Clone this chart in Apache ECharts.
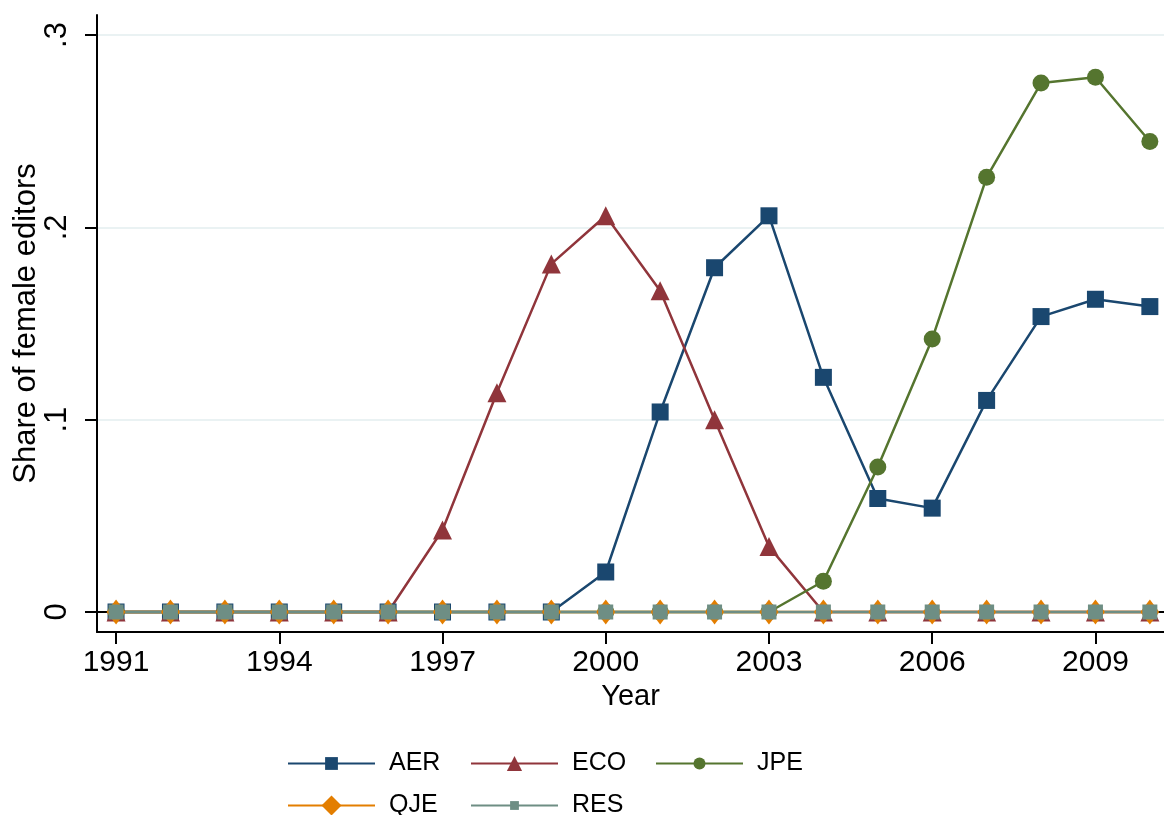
<!doctype html>
<html lang="en">
<head>
    <meta charset="UTF-8">
    <title>Share of female editors</title>
    <style>
        * {
            margin: 0;
            padding: 0;
        }

        body {
            background: #ffffff;
        }

        #chart {
            width: 1164px;
            height: 815px;
        }
    </style>
</head>
<body>
<script src="https://cdn.jsdelivr.net/npm/echarts@6/dist/echarts.min.js"></script>
<div id="chart"></div>

<script type="application/javascript">
    // data
    const years = [1991, 1992, 1993, 1994, 1995, 1996, 1997, 1998, 1999, 2000,
        2001, 2002, 2003, 2004, 2005, 2006, 2007, 2008, 2009, 2010];
    const aer = [0, 0, 0, 0, 0, 0, 0, 0, 0, 0.0208,
        0.104, 0.179, 0.206, 0.122, 0.059, 0.054, 0.110, 0.1536, 0.1626, 0.1588];
    const eco = [0, 0, 0, 0, 0, 0, 0.0426, 0.114, 0.181, 0.206,
        0.167, 0.100, 0.034, 0, 0, 0, 0, 0, 0, 0];
    const jpe = [0, 0, 0, 0, 0, 0, 0, 0, 0, 0,
        0, 0, 0, 0.016, 0.0754, 0.142, 0.226, 0.275, 0.278, 0.2446];
    const qje = [0, 0, 0, 0, 0, 0, 0, 0, 0, 0,
        0, 0, 0, 0, 0, 0, 0, 0, 0, 0];
    const res = [0, 0, 0, 0, 0, 0, 0, 0, 0, 0,
        0, 0, 0, 0, 0, 0, 0, 0, 0, 0];
    const yTicks = [0, 0.1, 0.2, 0.3];
    const xLabelYears = [1991, 1994, 1997, 2000, 2003, 2006, 2009];

    const font = 'Liberation Sans, Arial, sans-serif';

    const pairs = function (ys) {
        return years.map(function (yr, i) {
            return [yr, ys[i]];
        });
    };

    const makeSeries = function (name, ys, color, symbol, size) {
        return {
            name: name,
            type: 'line',
            data: pairs(ys),
            symbol: symbol,
            symbolSize: size,
            showSymbol: true,
            xAxisIndex: 0,
            lineStyle: {color: color, width: 2.5},
            itemStyle: {color: color},
            emphasis: {disabled: true},
            animation: false
        };
    };

    // one legend per entry so the columns line up like the original
    const makeLegend = function (name, left, centerY, iconH) {
        return {
            data: [name],
            left: left,
            top: centerY - 10,
            padding: 0,
            itemWidth: 87,
            itemHeight: iconH,
            textStyle: {
                fontFamily: font,
                fontSize: 25,
                color: '#000',
                padding: [0, 0, 0, 9]
            },
            selectedMode: false
        };
    };

    const chart = echarts.init(document.getElementById('chart'), null, {renderer: 'canvas'});

    const xBase = {
        type: 'value',
        min: 1990.65,
        max: 2010.26,
        position: 'bottom',
        offset: 0,
        splitLine: {show: false},
        axisLine: {lineStyle: {color: '#000', width: 2}}
    };

    const option = {
        backgroundColor: '#fff',
        animation: false,
        grid: {left: 97, right: 0, top: 15, bottom: 183, containLabel: false, outerBoundsMode: 'none'},
        legend: [
            makeLegend('AER', 287, 761, 16),
            makeLegend('ECO', 470, 761, 19),
            makeLegend('JPE', 655, 761, 15),
            makeLegend('QJE', 287, 803, 25),
            makeLegend('RES', 470, 803, 11)
        ],
        xAxis: [
            Object.assign({}, xBase, {
                axisTick: {length: 6, lineStyle: {color: '#000', width: 2}, customValues: years},
                axisLabel: {show: false}
            }),
            Object.assign({}, xBase, {
                name: 'Year',
                nameLocation: 'middle',
                nameGap: 48,
                nameTextStyle: {fontFamily: font, fontSize: 29, color: '#000'},
                axisTick: {length: 12, lineStyle: {color: '#000', width: 2}, customValues: xLabelYears},
                axisLabel: {
                    customValues: xLabelYears,
                    fontFamily: font,
                    fontSize: 30,
                    color: '#000',
                    margin: 16,
                    formatter: function (v) {
                        return String(Math.round(v));
                    }
                }
            })
        ],
        yAxis: {
            type: 'value',
            min: -0.0104,
            max: 0.3104,
            name: 'Share of female editors',
            nameLocation: 'middle',
            nameRotate: 90,
            nameGap: 55,
            nameMoveOverlap: false,
            nameTextStyle: {fontFamily: font, fontSize: 31, color: '#000'},
            axisLine: {show: true, lineStyle: {color: '#000', width: 2}},
            axisTick: {show: true, length: 12, lineStyle: {color: '#000', width: 2}, customValues: yTicks},
            axisLabel: {
                customValues: yTicks,
                rotate: 90,
                fontFamily: font,
                fontSize: 31,
                color: '#000',
                margin: 24,
                formatter: function (v) {
                    if (v === 0) return '0';
                    return String(+v.toFixed(1)).replace(/^0/, '');
                }
            },
            splitLine: {show: true, lineStyle: {color: '#eaf2f3', width: 2}}
        },
        series: [
            makeSeries('AER', aer, '#1a476f', 'rect', 17),
            makeSeries('ECO', eco, '#90353b', 'triangle', 19),
            makeSeries('JPE', jpe, '#55752f', 'circle', 17),
            makeSeries('QJE', qje, '#e37e00', 'diamond', [19, 25]),
            makeSeries('RES', res, '#6e8e84', 'rect', 15)
        ]
    };

    chart.setOption(option);
</script>
</body>
</html>
